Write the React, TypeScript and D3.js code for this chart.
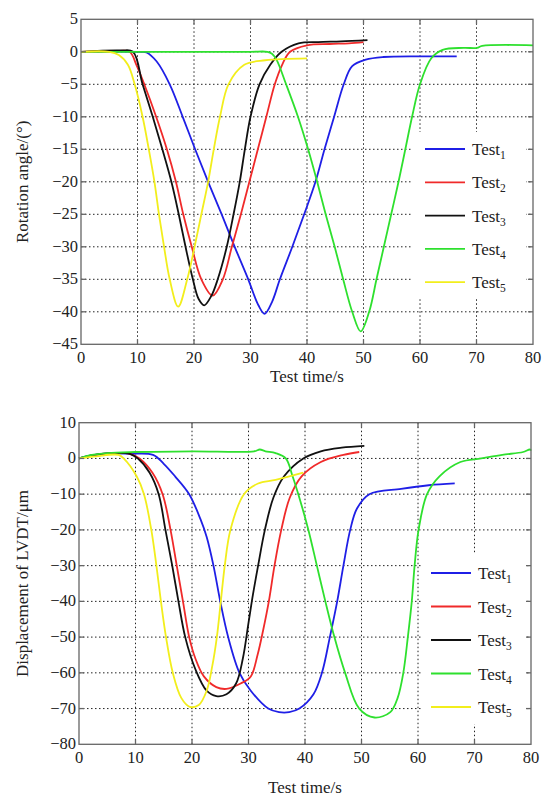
import React, { useEffect, useRef } from 'react';
import * as d3 from 'd3';

// ---- top panel: rotation angle (deg) vs time (s) ----
const rotTest1 = [[0,0],[10.5,0],[11.6,-0.1],[13.4,-1.5],[15.7,-5],[18,-10],[20.2,-15],[22.5,-20],[24.9,-25],[27.2,-30],[29.6,-35],[31.4,-39],[32.5,-40.3],[33.8,-38.5],[35.2,-35],[37.4,-30],[39.5,-25],[41.5,-20],[43.1,-15],[44.8,-10],[46.5,-5],[48,-2.2],[50.4,-1.2],[53.5,-0.8],[60,-0.7],[66.5,-0.7]];
const rotTest2 = [[0,0],[6,0.1],[8.6,0],[9.8,-2],[11.2,-5],[13.3,-10],[15.2,-15],[16.8,-20],[18.1,-25],[19.6,-30],[21.3,-35],[23.3,-37.5],[25.1,-35],[26.7,-30],[28.3,-25],[29.8,-20],[31.3,-15],[32.8,-10],[34.3,-5],[35.6,-2],[37,0],[40,1],[44,1.2],[47.4,1.3],[50,1.5]];
const rotTest3 = [[0,0],[7,0.2],[9.2,0],[10.9,-5],[12.7,-10],[14.4,-15],[16,-20],[17.3,-25],[18.5,-30],[19.8,-35],[20.8,-38],[21.8,-39],[23.1,-37.5],[24.2,-35],[25.8,-30],[27,-25],[28.1,-20],[29,-15],[30,-10],[31.6,-5],[33.5,-2],[35.5,0],[38.5,1.3],[42,1.5],[46,1.6],[50.7,1.8]];
const rotTest4 = [[0,0],[10,0],[20,0],[30,0],[33,0],[33.8,-0.3],[34.6,-1.2],[36.3,-5],[38.4,-10],[40.2,-15],[41.8,-20],[43.3,-25],[44.9,-30],[46.4,-35],[48,-40],[49.5,-43],[51,-40],[52.3,-35],[53.6,-30],[54.9,-25],[56.2,-20],[57.4,-15],[58.6,-10],[60,-5],[62,-1],[64,0.3],[67.7,0.6],[70.1,0.6],[71,0.9],[80,1]];
const rotTest5 = [[0,0],[5,0],[6.7,-0.5],[8.3,-2],[9.5,-5],[10.9,-10],[12,-15],[13,-20],[13.8,-25],[14.7,-30],[15.7,-35],[17.2,-39.2],[18.8,-35],[20.1,-30],[21.3,-25],[22.5,-20],[23.5,-15],[24.6,-10],[26.1,-5],[28.9,-2],[32.6,-1.3],[40,-1]];

// ---- bottom panel: LVDT displacement (um) vs time (s) ----
const lvdtTest1 = [[0,0],[2,0.8],[5,1.4],[9,1.3],[13.1,1],[15,-1.5],[17,-5],[19.5,-10],[21.5,-17],[22.6,-22],[23.8,-30],[25,-40],[26.4,-50],[28.4,-60],[30.4,-65],[33.5,-70],[35.4,-71],[37.2,-71],[39,-70],[41.5,-66],[43,-60],[44.4,-50],[45.7,-40],[46.8,-30],[48,-20],[49.2,-14],[51.4,-10],[57,-8.5],[61.9,-7.5],[66.5,-7]];
const lvdtTest2 = [[0,0],[2,0.8],[6,1.5],[9,1.3],[10.7,0],[13,-4],[14.8,-10],[16.2,-20],[17.3,-30],[18.4,-40],[19.5,-50],[20.6,-56],[22.1,-61],[24.3,-64],[26.1,-64.5],[28.6,-63],[30.4,-61],[31.6,-55],[32.6,-48],[33.6,-40],[34.6,-30],[35.8,-20],[37.3,-11],[39.4,-5],[42.8,-1],[46.8,1],[49.6,1.8]];
const lvdtTest3 = [[0,0],[2,0.8],[6,1.5],[9,1.3],[10.4,0],[12.5,-4],[14.1,-10],[15.3,-20],[16.5,-30],[17.6,-40],[18.8,-50],[20.6,-59],[22.6,-65],[24.3,-66.5],[26.1,-66],[27.8,-63],[29,-56],[30,-46],[30.8,-38],[31.7,-30],[32.9,-20],[34.4,-11],[36.3,-5],[39.7,0],[42.8,2],[46.5,3],[50.5,3.5]];
const lvdtTest4 = [[0,0],[2,0.9],[5,1.5],[10,1.8],[20,2],[31,2],[32,2.5],[33,2],[34.8,1.5],[36.6,0],[37.8,-5],[39,-11],[40.6,-20],[42.1,-30],[43.6,-40],[45.2,-50],[47.1,-60],[49.6,-70],[52.3,-72.5],[55.1,-71],[56.4,-67],[57.4,-60],[58.2,-50],[58.9,-40],[59.4,-30],[60.1,-20],[61.6,-10],[63.8,-5],[67.5,-1],[71.2,0],[74.9,1],[78.6,1.8],[79.8,2.5],[80,2.2]];
const lvdtTest5 = [[0,0],[3,0.6],[7,1],[7.9,0],[10.2,-5],[11.5,-10],[12.8,-20],[13.7,-30],[14.5,-40],[15.4,-50],[16.6,-60],[18.1,-67],[19.6,-69.5],[21.2,-69],[22.6,-65],[23.6,-58],[24.4,-50],[25.1,-40],[25.8,-30],[26.8,-20],[29.2,-10],[31.7,-7],[34.8,-6],[39.7,-4]];

const testNames = ['1', '2', '3', '4', '5'];
const testColors = ['#1f1fe6', '#f02a2a', '#111111', '#2ee02e', '#f2ee1c'];

const rotTicksY = d3.range(-45, 6, 5);
const lvdtTicksY = d3.range(-80, 11, 10);
const timeTicks = d3.range(0, 81, 10);

const FONT = '"Liberation Serif", "Times New Roman", serif';

type Panel = {
  left: number; right: number; top: number; bottom: number;
  yDomain: [number, number]; yTicks: number[];
  series: number[][][];
  yLabel: string; yLabelX: number;
  xTickY: number; xLabelY: number;
  legend: { x0: number; y0: number; step: number; boxX: number; boxY: number; boxW: number; boxH: number };
};

const panels: Panel[] = [
  {
    left: 81, right: 533, top: 19.3, bottom: 344.3,
    yDomain: [-45, 5], yTicks: rotTicksY,
    series: [rotTest1, rotTest2, rotTest3, rotTest4, rotTest5],
    yLabel: 'Rotation angle/(°)', yLabelX: 22,
    xTickY: 357, xLabelY: 376,
    legend: { x0: 425, y0: 149, step: 33.3, boxX: 413, boxY: 132, boxW: 113, boxH: 166 },
  },
  {
    left: 79, right: 531, top: 422.7, bottom: 744.3,
    yDomain: [-80, 10], yTicks: lvdtTicksY,
    series: [lvdtTest1, lvdtTest2, lvdtTest3, lvdtTest4, lvdtTest5],
    yLabel: 'Displacement of LVDT/μm', yLabelX: 22,
    xTickY: 757, xLabelY: 787,
    legend: { x0: 431, y0: 573, step: 33.5, boxX: 422, boxY: 554, boxW: 103, boxH: 170 },
  },
];

function drawPanel(svg: d3.Selection<SVGSVGElement, unknown, null, undefined>, p: Panel) {
  const x = d3.scaleLinear().domain([0, 80]).range([p.left, p.right]);
  const y = d3.scaleLinear().domain(p.yDomain).range([p.bottom, p.top]);
  const g = svg.append('g');

  // grid
  const grid = g.append('g').attr('stroke', '#222').attr('stroke-width', 1).attr('stroke-dasharray', '1.5,2.5');
  grid.selectAll('line.v').data(timeTicks.slice(1, -1)).join('line')
    .attr('x1', d => x(d)).attr('x2', d => x(d)).attr('y1', p.top).attr('y2', p.bottom);
  grid.selectAll('line.h').data(p.yTicks.slice(1, -1)).join('line')
    .attr('y1', d => y(d)).attr('y2', d => y(d)).attr('x1', p.left).attr('x2', p.right);

  // curves
  const line = d3.line<number[]>().x(d => x(d[0])).y(d => y(d[1])).curve(d3.curveCatmullRom.alpha(0.5));
  g.append('g').selectAll('path').data(p.series).join('path')
    .attr('d', d => line(d))
    .attr('fill', 'none')
    .attr('stroke', (_, i) => testColors[i])
    .attr('stroke-width', 1.8);

  // legend
  const L = p.legend;
  g.append('rect').attr('x', L.boxX).attr('y', L.boxY).attr('width', L.boxW).attr('height', L.boxH).attr('fill', '#fff');
  const items = g.append('g').selectAll('g').data(testNames).join('g')
    .attr('transform', (_, i) => `translate(0,${L.y0 + i * L.step})`);
  items.append('line').attr('x1', L.x0).attr('x2', L.x0 + 40).attr('y1', 0).attr('y2', 0)
    .attr('stroke', (_, i) => testColors[i]).attr('stroke-width', 1.8);
  const lt = items.append('text').attr('x', L.x0 + 47).attr('y', 6)
    .attr('font-family', FONT).attr('font-size', 17).attr('fill', '#222');
  lt.append('tspan').text('Test');
  lt.append('tspan').attr('dy', 4).attr('font-size', 11.5).text(d => d);

  // frame and ticks
  const ax = g.append('g').attr('stroke', '#666').attr('stroke-width', 1.3);
  ax.append('rect').attr('x', p.left).attr('y', p.top).attr('width', p.right - p.left).attr('height', p.bottom - p.top).attr('fill', 'none');
  const tl = 5;
  timeTicks.slice(1, -1).forEach(t => {
    ax.append('line').attr('x1', x(t)).attr('x2', x(t)).attr('y1', p.bottom).attr('y2', p.bottom - tl);
    ax.append('line').attr('x1', x(t)).attr('x2', x(t)).attr('y1', p.top).attr('y2', p.top + tl);
  });
  p.yTicks.slice(1, -1).forEach(v => {
    ax.append('line').attr('y1', y(v)).attr('y2', y(v)).attr('x1', p.left).attr('x2', p.left + tl);
    ax.append('line').attr('y1', y(v)).attr('y2', y(v)).attr('x1', p.right).attr('x2', p.right - tl);
  });

  // tick labels
  const fmt = d3.format('d');
  g.append('g').selectAll('text').data(timeTicks).join('text')
    .attr('x', d => x(d)).attr('y', p.xTickY).attr('dy', '0.35em')
    .attr('text-anchor', 'middle').attr('font-family', FONT).attr('font-size', 16.5).attr('fill', '#222')
    .text(d => fmt(d));
  g.append('g').selectAll('text').data(p.yTicks).join('text')
    .attr('x', p.left - 3).attr('y', d => y(d)).attr('dy', '0.3em')
    .attr('text-anchor', 'end').attr('font-family', FONT).attr('font-size', 16.5).attr('fill', '#222')
    .text(d => fmt(d));

  // axis titles
  g.append('text').attr('x', (p.left + p.right) / 2).attr('y', p.xLabelY).attr('dy', '0.35em')
    .attr('text-anchor', 'middle').attr('font-family', FONT).attr('font-size', 17).attr('fill', '#222')
    .text('Test time/s');
  g.append('text')
    .attr('transform', `translate(${p.yLabelX},${(p.top + p.bottom) / 2}) rotate(-90)`)
    .attr('dy', '0.35em').attr('text-anchor', 'middle')
    .attr('font-family', FONT).attr('font-size', 17).attr('fill', '#222')
    .text(p.yLabel);
}

export default function App() {
  const ref = useRef<SVGSVGElement>(null);
  useEffect(() => {
    const svg = d3.select(ref.current!);
    svg.selectAll('*').remove();
    panels.forEach(p => drawPanel(svg, p));
  }, []);
  return (
    <svg ref={ref} width={547} height={798}
      style={{ position: 'absolute', left: 0, top: 0, background: '#fff' }} />
  );
}
